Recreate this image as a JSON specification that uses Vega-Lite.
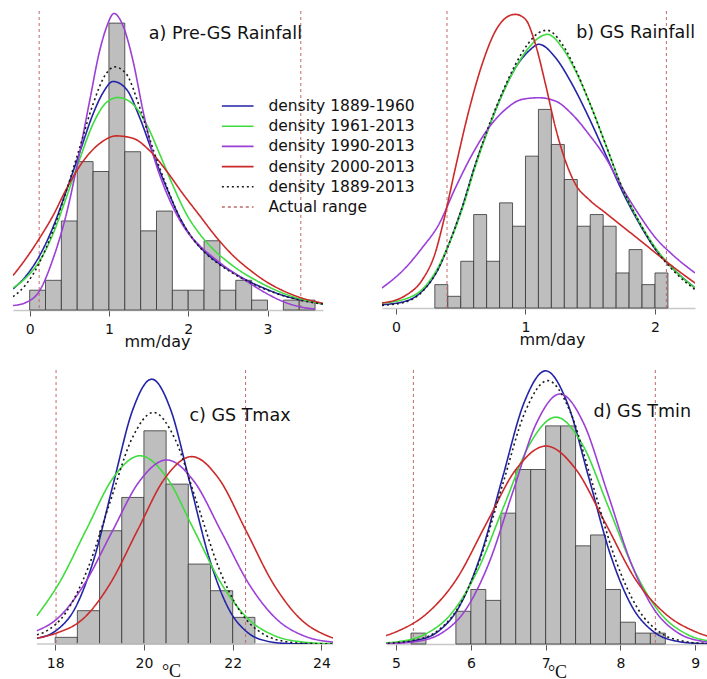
{
"$schema": "https://vega.github.io/schema/vega-lite/v6.json",
"padding": {"left": 13, "top": 10, "right": 0, "bottom": 0},
"background": "white",
"columns": 1,
"align": "none",
"spacing": 20,
"config": {
  "view": {"stroke": null},
  "axis": {"grid": false, "labelFont": "DejaVu Sans", "labelFontSize": 14, "labelColor": "#111", "labelPadding": 6, "tickSize": 6, "tickColor": "#555", "tickWidth": 1, "domainColor": "#c8c8c8", "domainWidth": 1.5, "titleFontWeight": "normal", "titleColor": "#111", "labelFlush": false, "labelOverlap": false, "titleBaseline": "alphabetic", "format": "~g"},
  "legend": {"labelFont": "DejaVu Sans", "labelFontSize": 15.5, "labelColor": "#111", "padding": 0}
},
"datasets": {
  "hist": [
    {"p":"a","x0":0.0,"x1":0.2,"d":0.08},{"p":"a","x0":0.2,"x1":0.4,"d":0.12},{"p":"a","x0":0.4,"x1":0.6,"d":0.36},{"p":"a","x0":0.6,"x1":0.8,"d":0.6},{"p":"a","x0":0.8,"x1":1.0,"d":0.56},{"p":"a","x0":1.0,"x1":1.2,"d":1.16},{"p":"a","x0":1.2,"x1":1.4,"d":0.64},{"p":"a","x0":1.4,"x1":1.6,"d":0.32},{"p":"a","x0":1.6,"x1":1.8,"d":0.4},{"p":"a","x0":1.8,"x1":2.0,"d":0.08},{"p":"a","x0":2.0,"x1":2.2,"d":0.08},{"p":"a","x0":2.2,"x1":2.4,"d":0.28},{"p":"a","x0":2.4,"x1":2.6,"d":0.08},{"p":"a","x0":2.6,"x1":2.8,"d":0.12},{"p":"a","x0":2.8,"x1":3.0,"d":0.04},{"p":"a","x0":3.2,"x1":3.4,"d":0.04},{"p":"a","x0":3.4,"x1":3.6,"d":0.04},
    {"p":"b","x0":0.3,"x1":0.4,"d":0.16},{"p":"b","x0":0.4,"x1":0.5,"d":0.08},{"p":"b","x0":0.5,"x1":0.6,"d":0.32},{"p":"b","x0":0.6,"x1":0.7,"d":0.64},{"p":"b","x0":0.7,"x1":0.8,"d":0.32},{"p":"b","x0":0.8,"x1":0.9,"d":0.72},{"p":"b","x0":0.9,"x1":1.0,"d":0.56},{"p":"b","x0":1.0,"x1":1.1,"d":1.04},{"p":"b","x0":1.1,"x1":1.2,"d":1.36},{"p":"b","x0":1.2,"x1":1.3,"d":1.12},{"p":"b","x0":1.3,"x1":1.4,"d":0.88},{"p":"b","x0":1.4,"x1":1.5,"d":0.56},{"p":"b","x0":1.5,"x1":1.6,"d":0.64},{"p":"b","x0":1.6,"x1":1.7,"d":0.56},{"p":"b","x0":1.7,"x1":1.8,"d":0.24},{"p":"b","x0":1.8,"x1":1.9,"d":0.4},{"p":"b","x0":1.9,"x1":2.0,"d":0.16},{"p":"b","x0":2.0,"x1":2.1,"d":0.24},
    {"p":"c","x0":18.0,"x1":18.5,"d":0.016},{"p":"c","x0":18.5,"x1":19.0,"d":0.08},{"p":"c","x0":19.0,"x1":19.5,"d":0.272},{"p":"c","x0":19.5,"x1":20.0,"d":0.352},{"p":"c","x0":20.0,"x1":20.5,"d":0.512},{"p":"c","x0":20.5,"x1":21.0,"d":0.384},{"p":"c","x0":21.0,"x1":21.5,"d":0.192},{"p":"c","x0":21.5,"x1":22.0,"d":0.128},{"p":"c","x0":22.0,"x1":22.5,"d":0.064},
    {"p":"d","x0":5.2,"x1":5.4,"d":0.04},{"p":"d","x0":5.8,"x1":6.0,"d":0.12},{"p":"d","x0":6.0,"x1":6.2,"d":0.2},{"p":"d","x0":6.2,"x1":6.4,"d":0.16},{"p":"d","x0":6.4,"x1":6.6,"d":0.48},{"p":"d","x0":6.6,"x1":6.8,"d":0.64},{"p":"d","x0":6.8,"x1":7.0,"d":0.64},{"p":"d","x0":7.0,"x1":7.2,"d":0.8},{"p":"d","x0":7.2,"x1":7.4,"d":0.8},{"p":"d","x0":7.4,"x1":7.6,"d":0.36},{"p":"d","x0":7.6,"x1":7.8,"d":0.4},{"p":"d","x0":7.8,"x1":8.0,"d":0.2},{"p":"d","x0":8.0,"x1":8.2,"d":0.08},{"p":"d","x0":8.2,"x1":8.4,"d":0.04},{"p":"d","x0":8.4,"x1":8.6,"d":0.04}
  ],
  "range": [
    {"p":"a","s":"Actual range","x":0.12},{"p":"a","s":"Actual range","x":3.42},
    {"p":"b","s":"Actual range","x":0.394},{"p":"b","s":"Actual range","x":2.088},
    {"p":"c","s":"Actual range","x":18.02},{"p":"c","s":"Actual range","x":22.29},
    {"p":"d","s":"Actual range","x":5.232},{"p":"d","s":"Actual range","x":8.466}
  ],
  "dens": [
    {"p":"a","s":"density 1889-1960","x":-0.21,"y":0.085},{"p":"a","s":"density 1889-1960","x":-0.042,"y":0.139},{"p":"a","s":"density 1889-1960","x":0.126,"y":0.22},{"p":"a","s":"density 1889-1960","x":0.294,"y":0.334},{"p":"a","s":"density 1889-1960","x":0.463,"y":0.482},{"p":"a","s":"density 1889-1960","x":0.631,"y":0.637},{"p":"a","s":"density 1889-1960","x":0.799,"y":0.792},{"p":"a","s":"density 1889-1960","x":0.926,"y":0.879},{"p":"a","s":"density 1889-1960","x":1.052,"y":0.924},{"p":"a","s":"density 1889-1960","x":1.22,"y":0.893},{"p":"a","s":"density 1889-1960","x":1.388,"y":0.778},{"p":"a","s":"density 1889-1960","x":1.557,"y":0.63},{"p":"a","s":"density 1889-1960","x":1.725,"y":0.496},{"p":"a","s":"density 1889-1960","x":1.893,"y":0.374},{"p":"a","s":"density 1889-1960","x":2.061,"y":0.287},{"p":"a","s":"density 1889-1960","x":2.23,"y":0.229},{"p":"a","s":"density 1889-1960","x":2.398,"y":0.186},{"p":"a","s":"density 1889-1960","x":2.566,"y":0.152},{"p":"a","s":"density 1889-1960","x":2.777,"y":0.114},{"p":"a","s":"density 1889-1960","x":2.987,"y":0.084},{"p":"a","s":"density 1889-1960","x":3.197,"y":0.059},{"p":"a","s":"density 1889-1960","x":3.408,"y":0.042},{"p":"a","s":"density 1889-1960","x":3.702,"y":0.024},
    {"p":"a","s":"density 1961-2013","x":-0.21,"y":0.089},{"p":"a","s":"density 1961-2013","x":-0.042,"y":0.132},{"p":"a","s":"density 1961-2013","x":0.126,"y":0.199},{"p":"a","s":"density 1961-2013","x":0.294,"y":0.307},{"p":"a","s":"density 1961-2013","x":0.463,"y":0.455},{"p":"a","s":"density 1961-2013","x":0.631,"y":0.61},{"p":"a","s":"density 1961-2013","x":0.799,"y":0.752},{"p":"a","s":"density 1961-2013","x":0.968,"y":0.839},{"p":"a","s":"density 1961-2013","x":1.115,"y":0.859},{"p":"a","s":"density 1961-2013","x":1.304,"y":0.832},{"p":"a","s":"density 1961-2013","x":1.472,"y":0.752},{"p":"a","s":"density 1961-2013","x":1.641,"y":0.63},{"p":"a","s":"density 1961-2013","x":1.809,"y":0.502},{"p":"a","s":"density 1961-2013","x":1.977,"y":0.388},{"p":"a","s":"density 1961-2013","x":2.146,"y":0.307},{"p":"a","s":"density 1961-2013","x":2.314,"y":0.246},{"p":"a","s":"density 1961-2013","x":2.482,"y":0.199},{"p":"a","s":"density 1961-2013","x":2.65,"y":0.159},{"p":"a","s":"density 1961-2013","x":2.861,"y":0.119},{"p":"a","s":"density 1961-2013","x":3.071,"y":0.085},{"p":"a","s":"density 1961-2013","x":3.281,"y":0.058},{"p":"a","s":"density 1961-2013","x":3.492,"y":0.038},{"p":"a","s":"density 1961-2013","x":3.702,"y":0.024},
    {"p":"a","s":"density 1990-2013","x":-0.21,"y":0.018},{"p":"a","s":"density 1990-2013","x":-0.042,"y":0.031},{"p":"a","s":"density 1990-2013","x":0.126,"y":0.078},{"p":"a","s":"density 1990-2013","x":0.294,"y":0.206},{"p":"a","s":"density 1990-2013","x":0.463,"y":0.388},{"p":"a","s":"density 1990-2013","x":0.61,"y":0.603},{"p":"a","s":"density 1990-2013","x":0.757,"y":0.846},{"p":"a","s":"density 1990-2013","x":0.883,"y":1.048},{"p":"a","s":"density 1990-2013","x":0.968,"y":1.142},{"p":"a","s":"density 1990-2013","x":1.064,"y":1.199},{"p":"a","s":"density 1990-2013","x":1.178,"y":1.149},{"p":"a","s":"density 1990-2013","x":1.304,"y":1.007},{"p":"a","s":"density 1990-2013","x":1.43,"y":0.805},{"p":"a","s":"density 1990-2013","x":1.557,"y":0.63},{"p":"a","s":"density 1990-2013","x":1.683,"y":0.509},{"p":"a","s":"density 1990-2013","x":1.809,"y":0.415},{"p":"a","s":"density 1990-2013","x":1.977,"y":0.321},{"p":"a","s":"density 1990-2013","x":2.146,"y":0.26},{"p":"a","s":"density 1990-2013","x":2.356,"y":0.202},{"p":"a","s":"density 1990-2013","x":2.566,"y":0.152},{"p":"a","s":"density 1990-2013","x":2.777,"y":0.108},{"p":"a","s":"density 1990-2013","x":2.987,"y":0.067},{"p":"a","s":"density 1990-2013","x":3.197,"y":0.034},{"p":"a","s":"density 1990-2013","x":3.408,"y":0.013},{"p":"a","s":"density 1990-2013","x":3.597,"y":0.004},
    {"p":"a","s":"density 2000-2013","x":-0.21,"y":0.139},{"p":"a","s":"density 2000-2013","x":-0.042,"y":0.21},{"p":"a","s":"density 2000-2013","x":0.126,"y":0.291},{"p":"a","s":"density 2000-2013","x":0.294,"y":0.381},{"p":"a","s":"density 2000-2013","x":0.463,"y":0.489},{"p":"a","s":"density 2000-2013","x":0.673,"y":0.601},{"p":"a","s":"density 2000-2013","x":0.883,"y":0.673},{"p":"a","s":"density 2000-2013","x":1.094,"y":0.704},{"p":"a","s":"density 2000-2013","x":1.304,"y":0.694},{"p":"a","s":"density 2000-2013","x":1.515,"y":0.644},{"p":"a","s":"density 2000-2013","x":1.725,"y":0.563},{"p":"a","s":"density 2000-2013","x":1.935,"y":0.469},{"p":"a","s":"density 2000-2013","x":2.146,"y":0.381},{"p":"a","s":"density 2000-2013","x":2.356,"y":0.294},{"p":"a","s":"density 2000-2013","x":2.566,"y":0.22},{"p":"a","s":"density 2000-2013","x":2.777,"y":0.162},{"p":"a","s":"density 2000-2013","x":2.987,"y":0.114},{"p":"a","s":"density 2000-2013","x":3.197,"y":0.078},{"p":"a","s":"density 2000-2013","x":3.408,"y":0.051},{"p":"a","s":"density 2000-2013","x":3.702,"y":0.027},
    {"p":"a","s":"density 1889-2013","x":-0.21,"y":0.054},{"p":"a","s":"density 1889-2013","x":-0.042,"y":0.105},{"p":"a","s":"density 1889-2013","x":0.126,"y":0.193},{"p":"a","s":"density 1889-2013","x":0.294,"y":0.321},{"p":"a","s":"density 1889-2013","x":0.463,"y":0.482},{"p":"a","s":"density 1889-2013","x":0.631,"y":0.657},{"p":"a","s":"density 1889-2013","x":0.799,"y":0.832},{"p":"a","s":"density 1889-2013","x":0.947,"y":0.947},{"p":"a","s":"density 1889-2013","x":1.073,"y":0.983},{"p":"a","s":"density 1889-2013","x":1.22,"y":0.954},{"p":"a","s":"density 1889-2013","x":1.388,"y":0.819},{"p":"a","s":"density 1889-2013","x":1.557,"y":0.65},{"p":"a","s":"density 1889-2013","x":1.725,"y":0.502},{"p":"a","s":"density 1889-2013","x":1.893,"y":0.374},{"p":"a","s":"density 1889-2013","x":2.061,"y":0.287},{"p":"a","s":"density 1889-2013","x":2.23,"y":0.226},{"p":"a","s":"density 1889-2013","x":2.398,"y":0.183},{"p":"a","s":"density 1889-2013","x":2.566,"y":0.148},{"p":"a","s":"density 1889-2013","x":2.777,"y":0.112},{"p":"a","s":"density 1889-2013","x":2.987,"y":0.082},{"p":"a","s":"density 1889-2013","x":3.197,"y":0.058},{"p":"a","s":"density 1889-2013","x":3.408,"y":0.04},{"p":"a","s":"density 1889-2013","x":3.702,"y":0.024},

    {"p":"b","s":"density 1889-1960","x":-0.108,"y":0.023},{"p":"b","s":"density 1889-1960","x":0.072,"y":0.046},{"p":"b","s":"density 1889-1960","x":0.201,"y":0.114},{"p":"b","s":"density 1889-1960","x":0.33,"y":0.274},{"p":"b","s":"density 1889-1960","x":0.407,"y":0.434},{"p":"b","s":"density 1889-1960","x":0.51,"y":0.686},{"p":"b","s":"density 1889-1960","x":0.613,"y":0.983},{"p":"b","s":"density 1889-1960","x":0.716,"y":1.234},{"p":"b","s":"density 1889-1960","x":0.82,"y":1.463},{"p":"b","s":"density 1889-1960","x":0.923,"y":1.646},{"p":"b","s":"density 1889-1960","x":1.026,"y":1.76},{"p":"b","s":"density 1889-1960","x":1.103,"y":1.806},{"p":"b","s":"density 1889-1960","x":1.232,"y":1.714},{"p":"b","s":"density 1889-1960","x":1.361,"y":1.531},{"p":"b","s":"density 1889-1960","x":1.49,"y":1.303},{"p":"b","s":"density 1889-1960","x":1.619,"y":1.051},{"p":"b","s":"density 1889-1960","x":1.747,"y":0.8},{"p":"b","s":"density 1889-1960","x":1.876,"y":0.583},{"p":"b","s":"density 1889-1960","x":2.005,"y":0.4},{"p":"b","s":"density 1889-1960","x":2.134,"y":0.274},{"p":"b","s":"density 1889-1960","x":2.309,"y":0.137},
    {"p":"b","s":"density 1961-2013","x":-0.108,"y":0.034},{"p":"b","s":"density 1961-2013","x":0.072,"y":0.062},{"p":"b","s":"density 1961-2013","x":0.201,"y":0.126},{"p":"b","s":"density 1961-2013","x":0.33,"y":0.286},{"p":"b","s":"density 1961-2013","x":0.407,"y":0.434},{"p":"b","s":"density 1961-2013","x":0.51,"y":0.674},{"p":"b","s":"density 1961-2013","x":0.613,"y":0.971},{"p":"b","s":"density 1961-2013","x":0.716,"y":1.234},{"p":"b","s":"density 1961-2013","x":0.82,"y":1.463},{"p":"b","s":"density 1961-2013","x":0.923,"y":1.646},{"p":"b","s":"density 1961-2013","x":1.026,"y":1.783},{"p":"b","s":"density 1961-2013","x":1.103,"y":1.851},{"p":"b","s":"density 1961-2013","x":1.168,"y":1.874},{"p":"b","s":"density 1961-2013","x":1.284,"y":1.783},{"p":"b","s":"density 1961-2013","x":1.387,"y":1.623},{"p":"b","s":"density 1961-2013","x":1.49,"y":1.417},{"p":"b","s":"density 1961-2013","x":1.619,"y":1.12},{"p":"b","s":"density 1961-2013","x":1.747,"y":0.823},{"p":"b","s":"density 1961-2013","x":1.876,"y":0.594},{"p":"b","s":"density 1961-2013","x":2.005,"y":0.411},{"p":"b","s":"density 1961-2013","x":2.134,"y":0.274},{"p":"b","s":"density 1961-2013","x":2.309,"y":0.137},
    {"p":"b","s":"density 1990-2013","x":-0.108,"y":0.137},{"p":"b","s":"density 1990-2013","x":0.072,"y":0.274},{"p":"b","s":"density 1990-2013","x":0.201,"y":0.411},{"p":"b","s":"density 1990-2013","x":0.33,"y":0.571},{"p":"b","s":"density 1990-2013","x":0.459,"y":0.823},{"p":"b","s":"density 1990-2013","x":0.588,"y":1.051},{"p":"b","s":"density 1990-2013","x":0.716,"y":1.234},{"p":"b","s":"density 1990-2013","x":0.845,"y":1.36},{"p":"b","s":"density 1990-2013","x":0.974,"y":1.429},{"p":"b","s":"density 1990-2013","x":1.103,"y":1.44},{"p":"b","s":"density 1990-2013","x":1.232,"y":1.417},{"p":"b","s":"density 1990-2013","x":1.361,"y":1.326},{"p":"b","s":"density 1990-2013","x":1.49,"y":1.189},{"p":"b","s":"density 1990-2013","x":1.619,"y":1.029},{"p":"b","s":"density 1990-2013","x":1.747,"y":0.823},{"p":"b","s":"density 1990-2013","x":1.876,"y":0.64},{"p":"b","s":"density 1990-2013","x":2.005,"y":0.48},{"p":"b","s":"density 1990-2013","x":2.134,"y":0.366},{"p":"b","s":"density 1990-2013","x":2.309,"y":0.24},
    {"p":"b","s":"density 2000-2013","x":-0.108,"y":0.034},{"p":"b","s":"density 2000-2013","x":0.072,"y":0.085},{"p":"b","s":"density 2000-2013","x":0.201,"y":0.19},{"p":"b","s":"density 2000-2013","x":0.304,"y":0.38},{"p":"b","s":"density 2000-2013","x":0.369,"y":0.6},{"p":"b","s":"density 2000-2013","x":0.459,"y":0.96},{"p":"b","s":"density 2000-2013","x":0.562,"y":1.349},{"p":"b","s":"density 2000-2013","x":0.665,"y":1.669},{"p":"b","s":"density 2000-2013","x":0.768,"y":1.897},{"p":"b","s":"density 2000-2013","x":0.871,"y":2.0},{"p":"b","s":"density 2000-2013","x":0.923,"y":2.011},{"p":"b","s":"density 2000-2013","x":1.0,"y":1.977},{"p":"b","s":"density 2000-2013","x":1.077,"y":1.806},{"p":"b","s":"density 2000-2013","x":1.155,"y":1.531},{"p":"b","s":"density 2000-2013","x":1.232,"y":1.234},{"p":"b","s":"density 2000-2013","x":1.309,"y":1.006},{"p":"b","s":"density 2000-2013","x":1.387,"y":0.846},{"p":"b","s":"density 2000-2013","x":1.49,"y":0.743},{"p":"b","s":"density 2000-2013","x":1.619,"y":0.651},{"p":"b","s":"density 2000-2013","x":1.747,"y":0.56},{"p":"b","s":"density 2000-2013","x":1.876,"y":0.469},{"p":"b","s":"density 2000-2013","x":2.005,"y":0.377},{"p":"b","s":"density 2000-2013","x":2.134,"y":0.286},{"p":"b","s":"density 2000-2013","x":2.309,"y":0.171},
    {"p":"b","s":"density 1889-2013","x":-0.108,"y":0.018},{"p":"b","s":"density 1889-2013","x":0.072,"y":0.041},{"p":"b","s":"density 1889-2013","x":0.201,"y":0.11},{"p":"b","s":"density 1889-2013","x":0.33,"y":0.274},{"p":"b","s":"density 1889-2013","x":0.407,"y":0.434},{"p":"b","s":"density 1889-2013","x":0.51,"y":0.686},{"p":"b","s":"density 1889-2013","x":0.613,"y":0.983},{"p":"b","s":"density 1889-2013","x":0.716,"y":1.246},{"p":"b","s":"density 1889-2013","x":0.82,"y":1.474},{"p":"b","s":"density 1889-2013","x":0.923,"y":1.669},{"p":"b","s":"density 1889-2013","x":1.026,"y":1.817},{"p":"b","s":"density 1889-2013","x":1.103,"y":1.886},{"p":"b","s":"density 1889-2013","x":1.168,"y":1.902},{"p":"b","s":"density 1889-2013","x":1.284,"y":1.806},{"p":"b","s":"density 1889-2013","x":1.387,"y":1.634},{"p":"b","s":"density 1889-2013","x":1.49,"y":1.417},{"p":"b","s":"density 1889-2013","x":1.619,"y":1.12},{"p":"b","s":"density 1889-2013","x":1.747,"y":0.823},{"p":"b","s":"density 1889-2013","x":1.876,"y":0.594},{"p":"b","s":"density 1889-2013","x":2.005,"y":0.4},{"p":"b","s":"density 1889-2013","x":2.134,"y":0.263},{"p":"b","s":"density 1889-2013","x":2.309,"y":0.126},

    {"p":"c","s":"density 1889-1960","x":17.59,"y":0.014},{"p":"c","s":"density 1889-1960","x":18.018,"y":0.032},{"p":"c","s":"density 1889-1960","x":18.449,"y":0.0861},{"p":"c","s":"density 1889-1960","x":18.881,"y":0.2065},{"p":"c","s":"density 1889-1960","x":19.312,"y":0.3857},{"p":"c","s":"density 1889-1960","x":19.744,"y":0.5613},{"p":"c","s":"density 1889-1960","x":20.175,"y":0.636},{"p":"c","s":"density 1889-1960","x":20.607,"y":0.5613},{"p":"c","s":"density 1889-1960","x":21.038,"y":0.3857},{"p":"c","s":"density 1889-1960","x":21.47,"y":0.2065},{"p":"c","s":"density 1889-1960","x":21.901,"y":0.0861},{"p":"c","s":"density 1889-1960","x":22.333,"y":0.0279},{"p":"c","s":"density 1889-1960","x":22.764,"y":0.0071},{"p":"c","s":"density 1889-1960","x":23.196,"y":0.0014},{"p":"c","s":"density 1889-1960","x":23.627,"y":0.0002},{"p":"c","s":"density 1889-1960","x":24.4,"y":0.0},
    {"p":"c","s":"density 1961-2013","x":17.59,"y":0.068},{"p":"c","s":"density 1961-2013","x":18.092,"y":0.1468},{"p":"c","s":"density 1961-2013","x":18.699,"y":0.2741},{"p":"c","s":"density 1961-2013","x":19.306,"y":0.3989},{"p":"c","s":"density 1961-2013","x":19.913,"y":0.452},{"p":"c","s":"density 1961-2013","x":20.52,"y":0.3989},{"p":"c","s":"density 1961-2013","x":21.127,"y":0.2741},{"p":"c","s":"density 1961-2013","x":21.734,"y":0.1468},{"p":"c","s":"density 1961-2013","x":22.341,"y":0.0612},{"p":"c","s":"density 1961-2013","x":22.948,"y":0.0198},{"p":"c","s":"density 1961-2013","x":23.555,"y":0.005},{"p":"c","s":"density 1961-2013","x":24.162,"y":0.001},{"p":"c","s":"density 1961-2013","x":24.769,"y":0.0002},
    {"p":"c","s":"density 1990-2013","x":17.59,"y":0.032},{"p":"c","s":"density 1990-2013","x":18.037,"y":0.0598},{"p":"c","s":"density 1990-2013","x":18.656,"y":0.1435},{"p":"c","s":"density 1990-2013","x":19.275,"y":0.2681},{"p":"c","s":"density 1990-2013","x":19.894,"y":0.3901},{"p":"c","s":"density 1990-2013","x":20.513,"y":0.442},{"p":"c","s":"density 1990-2013","x":21.132,"y":0.3901},{"p":"c","s":"density 1990-2013","x":21.751,"y":0.2681},{"p":"c","s":"density 1990-2013","x":22.37,"y":0.1435},{"p":"c","s":"density 1990-2013","x":22.989,"y":0.0598},{"p":"c","s":"density 1990-2013","x":23.608,"y":0.0194},{"p":"c","s":"density 1990-2013","x":24.227,"y":0.0049},{"p":"c","s":"density 1990-2013","x":24.846,"y":0.001},
    {"p":"c","s":"density 2000-2013","x":17.59,"y":0.014},{"p":"c","s":"density 2000-2013","x":18.024,"y":0.026},{"p":"c","s":"density 2000-2013","x":18.634,"y":0.0609},{"p":"c","s":"density 2000-2013","x":19.245,"y":0.1461},{"p":"c","s":"density 2000-2013","x":19.855,"y":0.2729},{"p":"c","s":"density 2000-2013","x":20.466,"y":0.3971},{"p":"c","s":"density 2000-2013","x":21.076,"y":0.45},{"p":"c","s":"density 2000-2013","x":21.687,"y":0.3971},{"p":"c","s":"density 2000-2013","x":22.297,"y":0.2729},{"p":"c","s":"density 2000-2013","x":22.908,"y":0.1461},{"p":"c","s":"density 2000-2013","x":23.518,"y":0.0609},{"p":"c","s":"density 2000-2013","x":24.129,"y":0.0198},{"p":"c","s":"density 2000-2013","x":24.739,"y":0.005},
    {"p":"c","s":"density 1889-2013","x":17.59,"y":0.022},{"p":"c","s":"density 1889-2013","x":17.746,"y":0.028},{"p":"c","s":"density 1889-2013","x":18.239,"y":0.0752},{"p":"c","s":"density 1889-2013","x":18.733,"y":0.1805},{"p":"c","s":"density 1889-2013","x":19.226,"y":0.3372},{"p":"c","s":"density 1889-2013","x":19.72,"y":0.4907},{"p":"c","s":"density 1889-2013","x":20.213,"y":0.556},{"p":"c","s":"density 1889-2013","x":20.707,"y":0.4907},{"p":"c","s":"density 1889-2013","x":21.2,"y":0.3372},{"p":"c","s":"density 1889-2013","x":21.694,"y":0.1805},{"p":"c","s":"density 1889-2013","x":22.187,"y":0.0752},{"p":"c","s":"density 1889-2013","x":22.681,"y":0.0244},{"p":"c","s":"density 1889-2013","x":23.174,"y":0.0062},{"p":"c","s":"density 1889-2013","x":23.668,"y":0.0012},{"p":"c","s":"density 1889-2013","x":24.161,"y":0.0002},{"p":"c","s":"density 1889-2013","x":24.5,"y":0.0},

    {"p":"d","s":"density 1889-1960","x":4.684,"y":0.001},{"p":"d","s":"density 1889-1960","x":4.9735,"y":0.004},{"p":"d","s":"density 1889-1960","x":5.263,"y":0.0131},{"p":"d","s":"density 1889-1960","x":5.5525,"y":0.044},{"p":"d","s":"density 1889-1960","x":5.842,"y":0.1356},{"p":"d","s":"density 1889-1960","x":6.1315,"y":0.3253},{"p":"d","s":"density 1889-1960","x":6.421,"y":0.6077},{"p":"d","s":"density 1889-1960","x":6.7105,"y":0.8843},{"p":"d","s":"density 1889-1960","x":7.0,"y":1.002},{"p":"d","s":"density 1889-1960","x":7.2895,"y":0.8843},{"p":"d","s":"density 1889-1960","x":7.579,"y":0.6077},{"p":"d","s":"density 1889-1960","x":7.8685,"y":0.3253},{"p":"d","s":"density 1889-1960","x":8.158,"y":0.1356},{"p":"d","s":"density 1889-1960","x":8.4475,"y":0.044},{"p":"d","s":"density 1889-1960","x":8.737,"y":0.0111},{"p":"d","s":"density 1889-1960","x":9.0265,"y":0.0022},{"p":"d","s":"density 1889-1960","x":9.316,"y":0.0003},
    {"p":"d","s":"density 1961-2013","x":4.695,"y":0.0018},{"p":"d","s":"density 1961-2013","x":5.044,"y":0.0092},{"p":"d","s":"density 1961-2013","x":5.393,"y":0.0365},{"p":"d","s":"density 1961-2013","x":5.742,"y":0.1126},{"p":"d","s":"density 1961-2013","x":6.091,"y":0.2701},{"p":"d","s":"density 1961-2013","x":6.44,"y":0.5046},{"p":"d","s":"density 1961-2013","x":6.789,"y":0.7342},{"p":"d","s":"density 1961-2013","x":7.138,"y":0.832},{"p":"d","s":"density 1961-2013","x":7.487,"y":0.7342},{"p":"d","s":"density 1961-2013","x":7.836,"y":0.5046},{"p":"d","s":"density 1961-2013","x":8.185,"y":0.2701},{"p":"d","s":"density 1961-2013","x":8.534,"y":0.1126},{"p":"d","s":"density 1961-2013","x":8.883,"y":0.0365},{"p":"d","s":"density 1961-2013","x":9.232,"y":0.0092},{"p":"d","s":"density 1961-2013","x":9.581,"y":0.0018},
    {"p":"d","s":"density 1990-2013","x":4.662,"y":0.0003},{"p":"d","s":"density 1990-2013","x":4.9783,"y":0.002},{"p":"d","s":"density 1990-2013","x":5.2945,"y":0.0102},{"p":"d","s":"density 1990-2013","x":5.6108,"y":0.0403},{"p":"d","s":"density 1990-2013","x":5.927,"y":0.1241},{"p":"d","s":"density 1990-2013","x":6.2433,"y":0.2977},{"p":"d","s":"density 1990-2013","x":6.5595,"y":0.5562},{"p":"d","s":"density 1990-2013","x":6.8758,"y":0.8093},{"p":"d","s":"density 1990-2013","x":7.192,"y":0.917},{"p":"d","s":"density 1990-2013","x":7.5083,"y":0.8093},{"p":"d","s":"density 1990-2013","x":7.8245,"y":0.5562},{"p":"d","s":"density 1990-2013","x":8.1408,"y":0.2977},{"p":"d","s":"density 1990-2013","x":8.457,"y":0.1241},{"p":"d","s":"density 1990-2013","x":8.7733,"y":0.0403},{"p":"d","s":"density 1990-2013","x":9.0895,"y":0.0102},{"p":"d","s":"density 1990-2013","x":9.4058,"y":0.002},
    {"p":"d","s":"density 2000-2013","x":4.204,"y":0.003},{"p":"d","s":"density 2000-2013","x":4.604,"y":0.014},{"p":"d","s":"density 2000-2013","x":5.004,"y":0.045},{"p":"d","s":"density 2000-2013","x":5.404,"y":0.11},{"p":"d","s":"density 2000-2013","x":5.804,"y":0.2357},{"p":"d","s":"density 2000-2013","x":6.204,"y":0.4403},{"p":"d","s":"density 2000-2013","x":6.604,"y":0.6407},{"p":"d","s":"density 2000-2013","x":7.004,"y":0.726},{"p":"d","s":"density 2000-2013","x":7.404,"y":0.6407},{"p":"d","s":"density 2000-2013","x":7.804,"y":0.4403},{"p":"d","s":"density 2000-2013","x":8.204,"y":0.2357},{"p":"d","s":"density 2000-2013","x":8.604,"y":0.11},{"p":"d","s":"density 2000-2013","x":9.004,"y":0.045},{"p":"d","s":"density 2000-2013","x":9.404,"y":0.014},{"p":"d","s":"density 2000-2013","x":9.804,"y":0.003},
    {"p":"d","s":"density 1889-2013","x":4.623,"y":0.001},{"p":"d","s":"density 1889-2013","x":4.9235,"y":0.0035},{"p":"d","s":"density 1889-2013","x":5.224,"y":0.0127},{"p":"d","s":"density 1889-2013","x":5.5245,"y":0.0424},{"p":"d","s":"density 1889-2013","x":5.825,"y":0.1307},{"p":"d","s":"density 1889-2013","x":6.1255,"y":0.3137},{"p":"d","s":"density 1889-2013","x":6.426,"y":0.5859},{"p":"d","s":"density 1889-2013","x":6.7265,"y":0.8525},{"p":"d","s":"density 1889-2013","x":7.027,"y":0.966},{"p":"d","s":"density 1889-2013","x":7.3275,"y":0.8525},{"p":"d","s":"density 1889-2013","x":7.628,"y":0.5859},{"p":"d","s":"density 1889-2013","x":7.9285,"y":0.3137},{"p":"d","s":"density 1889-2013","x":8.229,"y":0.1307},{"p":"d","s":"density 1889-2013","x":8.5295,"y":0.0424},{"p":"d","s":"density 1889-2013","x":8.83,"y":0.0107},{"p":"d","s":"density 1889-2013","x":9.1305,"y":0.0021},{"p":"d","s":"density 1889-2013","x":9.431,"y":0.0003}
  ]
},
"concat": [
 {"spacing": 59, "hconcat": [
  {"width": 310, "height": 299,
   "title": {"text": "a) Pre-GS Rainfall", "anchor": "end", "frame": "group", "orient": "top", "offset": 0, "dy": 46, "dx": -21, "baseline": "alphabetic", "font": "DejaVu Sans", "fontSize": 17.5, "fontWeight": "normal", "color": "#111"},
   "layer": [
    {"data": {"name": "hist"}, "transform": [{"filter": "datum.p === 'a'"}],
     "mark": {"type": "rect", "fill": "#bebebe", "stroke": "#333", "strokeWidth": 0.8},
     "encoding": {
      "x": {"field": "x0", "type": "quantitative", "scale": {"domain": [-0.21, 3.7], "nice": false, "zero": false},
            "axis": {"values": [0, 1, 2, 3], "title": "mm/day", "titleX": 144, "titleY": 36, "titleFont": "DejaVu Sans", "titleFontSize": 16}},
      "x2": {"field": "x1"},
      "y": {"field": "d", "type": "quantitative", "scale": {"domain": [0, 1.209], "nice": false}, "axis": null},
      "y2": {"datum": 0}}},
    {"data": {"name": "range"}, "transform": [{"filter": "datum.p === 'a'"}],
     "mark": {"type": "rule", "strokeWidth": 1},
     "encoding": {
      "x": {"field": "x", "type": "quantitative", "scale": {"domain": [-0.21, 3.7], "nice": false, "zero": false}},
      "color": {"field": "s", "type": "nominal", "scale": {"domain": ["density 1889-1960", "density 1961-2013", "density 1990-2013", "density 2000-2013", "density 1889-2013", "Actual range"], "range": ["#2323a8", "#3fdc3f", "#9b3fd6", "#cc2a2a", "#1a1a1a", "#c06a6a"]}, "legend": {"title": null, "orient": "none", "legendX": 214.7, "legendY": 85, "symbolType": "M-1.76,0H1.76", "symbolSize": 324, "symbolStrokeWidth": 1.6, "labelOffset": 20.7, "rowPadding": 1.2}},
      "strokeDash": {"field": "s", "type": "nominal", "scale": {"domain": ["density 1889-1960", "density 1961-2013", "density 1990-2013", "density 2000-2013", "density 1889-2013", "Actual range"], "range": [[1, 0], [1, 0], [1, 0], [1, 0], [2, 3], [3, 3]]}, "legend": {"title": null, "orient": "none", "legendX": 214.7, "legendY": 85, "symbolType": "M-1.76,0H1.76", "symbolSize": 324, "symbolStrokeWidth": 1.6, "labelOffset": 20.7, "rowPadding": 1.2}}}},
    {"data": {"name": "dens"}, "transform": [{"filter": "datum.p === 'a'"}],
     "mark": {"type": "line", "interpolate": "monotone", "clip": true, "strokeWidth": 1.6},
     "encoding": {
      "x": {"field": "x", "type": "quantitative", "scale": {"domain": [-0.21, 3.7], "nice": false, "zero": false}},
      "y": {"field": "y", "type": "quantitative", "scale": {"domain": [0, 1.209], "nice": false}},
      "color": {"field": "s", "type": "nominal", "scale": {"domain": ["density 1889-1960", "density 1961-2013", "density 1990-2013", "density 2000-2013", "density 1889-2013", "Actual range"], "range": ["#2323a8", "#3fdc3f", "#9b3fd6", "#cc2a2a", "#1a1a1a", "#c06a6a"]}, "legend": {"title": null, "orient": "none", "legendX": 214.7, "legendY": 85, "symbolType": "M-1.76,0H1.76", "symbolSize": 324, "symbolStrokeWidth": 1.6, "labelOffset": 20.7, "rowPadding": 1.2}},
      "strokeDash": {"field": "s", "type": "nominal", "scale": {"domain": ["density 1889-1960", "density 1961-2013", "density 1990-2013", "density 2000-2013", "density 1889-2013", "Actual range"], "range": [[1, 0], [1, 0], [1, 0], [1, 0], [2, 3], [3, 3]]}, "legend": {"title": null, "orient": "none", "legendX": 214.7, "legendY": 85, "symbolType": "M-1.76,0H1.76", "symbolSize": 324, "symbolStrokeWidth": 1.6, "labelOffset": 20.7, "rowPadding": 1.2}}}}
   ]},
  {"width": 313, "height": 297,
   "title": {"text": "b) GS Rainfall", "anchor": "end", "frame": "group", "orient": "top", "offset": 0, "dy": 45, "dx": 0, "baseline": "alphabetic", "font": "DejaVu Sans", "fontSize": 17.5, "fontWeight": "normal", "color": "#111"},
   "layer": [
    {"data": {"name": "hist"}, "transform": [{"filter": "datum.p === 'b'"}],
     "mark": {"type": "rect", "fill": "#bebebe", "stroke": "#333", "strokeWidth": 0.8},
     "encoding": {
      "x": {"field": "x0", "type": "quantitative", "scale": {"domain": [-0.108, 2.309], "nice": false, "zero": false},
            "axis": {"values": [0, 1, 2], "title": "mm/day", "titleX": 170, "titleY": 36, "titleFont": "DejaVu Sans", "titleFontSize": 16}},
      "x2": {"field": "x1"},
      "y": {"field": "d", "type": "quantitative", "scale": {"domain": [0, 2.034], "nice": false}, "axis": null},
      "y2": {"datum": 0}}},
    {"data": {"name": "range"}, "transform": [{"filter": "datum.p === 'b'"}],
     "mark": {"type": "rule", "strokeWidth": 1},
     "encoding": {
      "x": {"field": "x", "type": "quantitative", "scale": {"domain": [-0.108, 2.309], "nice": false, "zero": false}},
      "color": {"field": "s", "type": "nominal", "scale": {"domain": ["density 1889-1960", "density 1961-2013", "density 1990-2013", "density 2000-2013", "density 1889-2013", "Actual range"], "range": ["#2323a8", "#3fdc3f", "#9b3fd6", "#cc2a2a", "#1a1a1a", "#c06a6a"]}, "legend": {"title": null, "orient": "none", "legendX": 214.7, "legendY": 85, "symbolType": "M-1.76,0H1.76", "symbolSize": 324, "symbolStrokeWidth": 1.6, "labelOffset": 20.7, "rowPadding": 1.2}},
      "strokeDash": {"field": "s", "type": "nominal", "scale": {"domain": ["density 1889-1960", "density 1961-2013", "density 1990-2013", "density 2000-2013", "density 1889-2013", "Actual range"], "range": [[1, 0], [1, 0], [1, 0], [1, 0], [2, 3], [3, 3]]}, "legend": {"title": null, "orient": "none", "legendX": 214.7, "legendY": 85, "symbolType": "M-1.76,0H1.76", "symbolSize": 324, "symbolStrokeWidth": 1.6, "labelOffset": 20.7, "rowPadding": 1.2}}}},
    {"data": {"name": "dens"}, "transform": [{"filter": "datum.p === 'b'"}],
     "mark": {"type": "line", "interpolate": "monotone", "clip": true, "strokeWidth": 1.6},
     "encoding": {
      "x": {"field": "x", "type": "quantitative", "scale": {"domain": [-0.108, 2.309], "nice": false, "zero": false}},
      "y": {"field": "y", "type": "quantitative", "scale": {"domain": [0, 2.034], "nice": false}},
      "color": {"field": "s", "type": "nominal", "scale": {"domain": ["density 1889-1960", "density 1961-2013", "density 1990-2013", "density 2000-2013", "density 1889-2013", "Actual range"], "range": ["#2323a8", "#3fdc3f", "#9b3fd6", "#cc2a2a", "#1a1a1a", "#c06a6a"]}, "legend": {"title": null, "orient": "none", "legendX": 214.7, "legendY": 85, "symbolType": "M-1.76,0H1.76", "symbolSize": 324, "symbolStrokeWidth": 1.6, "labelOffset": 20.7, "rowPadding": 1.2}},
      "strokeDash": {"field": "s", "type": "nominal", "scale": {"domain": ["density 1889-1960", "density 1961-2013", "density 1990-2013", "density 2000-2013", "density 1889-2013", "Actual range"], "range": [[1, 0], [1, 0], [1, 0], [1, 0], [2, 3], [3, 3]]}, "legend": {"title": null, "orient": "none", "legendX": 214.7, "legendY": 85, "symbolType": "M-1.76,0H1.76", "symbolSize": 324, "symbolStrokeWidth": 1.6, "labelOffset": 20.7, "rowPadding": 1.2}}}}
   ]}
 ]},
 {"spacing": 52, "hconcat": [
  {"width": 320, "height": 274,
   "title": {"text": "c) GS Tmax", "anchor": "end", "frame": "group", "orient": "top", "offset": 0, "dy": 68.5, "dx": -42.5, "baseline": "alphabetic", "font": "DejaVu Sans", "fontSize": 17.5, "fontWeight": "normal", "color": "#111"},
   "layer": [
    {"data": {"name": "hist"}, "transform": [{"filter": "datum.p === 'c'"}],
     "mark": {"type": "rect", "fill": "#bebebe", "stroke": "#333", "strokeWidth": 0.8},
     "encoding": {
      "x": {"field": "x0", "type": "quantitative", "scale": {"domain": [17.05, 24.26], "nice": false, "zero": false},
            "axis": {"values": [18, 20, 22, 24], "title": "°C", "titleX": 158, "titleY": 32, "titleFont": "Liberation Serif", "titleFontSize": 18, "domain": false}},
      "x2": {"field": "x1"},
      "y": {"field": "d", "type": "quantitative", "scale": {"domain": [0, 0.658], "nice": false}, "axis": null},
      "y2": {"datum": 0}}},
    {"data": {"values": [{}]},
     "mark": {"type": "rule", "color": "#c8c8c8", "strokeWidth": 1.5},
     "encoding": {
      "x": {"datum": 17.59, "type": "quantitative", "scale": {"domain": [17.05, 24.26], "nice": false, "zero": false}},
      "x2": {"datum": 24.26},
      "y": {"datum": 0, "type": "quantitative", "scale": {"domain": [0, 0.658], "nice": false}}}},
    {"data": {"name": "range"}, "transform": [{"filter": "datum.p === 'c'"}],
     "mark": {"type": "rule", "strokeWidth": 1},
     "encoding": {
      "x": {"field": "x", "type": "quantitative", "scale": {"domain": [17.05, 24.26], "nice": false, "zero": false}},
      "color": {"field": "s", "type": "nominal", "scale": {"domain": ["density 1889-1960", "density 1961-2013", "density 1990-2013", "density 2000-2013", "density 1889-2013", "Actual range"], "range": ["#2323a8", "#3fdc3f", "#9b3fd6", "#cc2a2a", "#1a1a1a", "#c06a6a"]}, "legend": {"title": null, "orient": "none", "legendX": 214.7, "legendY": 85, "symbolType": "M-1.76,0H1.76", "symbolSize": 324, "symbolStrokeWidth": 1.6, "labelOffset": 20.7, "rowPadding": 1.2}},
      "strokeDash": {"field": "s", "type": "nominal", "scale": {"domain": ["density 1889-1960", "density 1961-2013", "density 1990-2013", "density 2000-2013", "density 1889-2013", "Actual range"], "range": [[1, 0], [1, 0], [1, 0], [1, 0], [2, 3], [3, 3]]}, "legend": {"title": null, "orient": "none", "legendX": 214.7, "legendY": 85, "symbolType": "M-1.76,0H1.76", "symbolSize": 324, "symbolStrokeWidth": 1.6, "labelOffset": 20.7, "rowPadding": 1.2}}}},
    {"data": {"name": "dens"}, "transform": [{"filter": "datum.p === 'c'"}],
     "mark": {"type": "line", "interpolate": "monotone", "clip": true, "strokeWidth": 1.6},
     "encoding": {
      "x": {"field": "x", "type": "quantitative", "scale": {"domain": [17.05, 24.26], "nice": false, "zero": false}},
      "y": {"field": "y", "type": "quantitative", "scale": {"domain": [0, 0.658], "nice": false}},
      "color": {"field": "s", "type": "nominal", "scale": {"domain": ["density 1889-1960", "density 1961-2013", "density 1990-2013", "density 2000-2013", "density 1889-2013", "Actual range"], "range": ["#2323a8", "#3fdc3f", "#9b3fd6", "#cc2a2a", "#1a1a1a", "#c06a6a"]}, "legend": {"title": null, "orient": "none", "legendX": 214.7, "legendY": 85, "symbolType": "M-1.76,0H1.76", "symbolSize": 324, "symbolStrokeWidth": 1.6, "labelOffset": 20.7, "rowPadding": 1.2}},
      "strokeDash": {"field": "s", "type": "nominal", "scale": {"domain": ["density 1889-1960", "density 1961-2013", "density 1990-2013", "density 2000-2013", "density 1889-2013", "Actual range"], "range": [[1, 0], [1, 0], [1, 0], [1, 0], [2, 3], [3, 3]]}, "legend": {"title": null, "orient": "none", "legendX": 214.7, "legendY": 85, "symbolType": "M-1.76,0H1.76", "symbolSize": 324, "symbolStrokeWidth": 1.6, "labelOffset": 20.7, "rowPadding": 1.2}}}}
   ]},
  {"width": 322, "height": 274,
   "title": {"text": "d) GS Tmin", "anchor": "end", "frame": "group", "orient": "top", "offset": 0, "dy": 64.5, "dx": -17, "baseline": "alphabetic", "font": "DejaVu Sans", "fontSize": 17.5, "fontWeight": "normal", "color": "#111"},
   "layer": [
    {"data": {"name": "hist"}, "transform": [{"filter": "datum.p === 'd'"}],
     "mark": {"type": "rect", "fill": "#bebebe", "stroke": "#333", "strokeWidth": 0.8},
     "encoding": {
      "x": {"field": "x0", "type": "quantitative", "scale": {"domain": [4.866, 9.17], "nice": false, "zero": false},
            "axis": {"values": [5, 6, 7, 8, 9], "title": "°C", "titleX": 171, "titleY": 33, "titleFont": "Liberation Serif", "titleFontSize": 18}},
      "x2": {"field": "x1"},
      "y": {"field": "d", "type": "quantitative", "scale": {"domain": [0, 1.005], "nice": false}, "axis": null},
      "y2": {"datum": 0}}},
    {"data": {"name": "range"}, "transform": [{"filter": "datum.p === 'd'"}],
     "mark": {"type": "rule", "strokeWidth": 1},
     "encoding": {
      "x": {"field": "x", "type": "quantitative", "scale": {"domain": [4.866, 9.17], "nice": false, "zero": false}},
      "color": {"field": "s", "type": "nominal", "scale": {"domain": ["density 1889-1960", "density 1961-2013", "density 1990-2013", "density 2000-2013", "density 1889-2013", "Actual range"], "range": ["#2323a8", "#3fdc3f", "#9b3fd6", "#cc2a2a", "#1a1a1a", "#c06a6a"]}, "legend": {"title": null, "orient": "none", "legendX": 214.7, "legendY": 85, "symbolType": "M-1.76,0H1.76", "symbolSize": 324, "symbolStrokeWidth": 1.6, "labelOffset": 20.7, "rowPadding": 1.2}},
      "strokeDash": {"field": "s", "type": "nominal", "scale": {"domain": ["density 1889-1960", "density 1961-2013", "density 1990-2013", "density 2000-2013", "density 1889-2013", "Actual range"], "range": [[1, 0], [1, 0], [1, 0], [1, 0], [2, 3], [3, 3]]}, "legend": {"title": null, "orient": "none", "legendX": 214.7, "legendY": 85, "symbolType": "M-1.76,0H1.76", "symbolSize": 324, "symbolStrokeWidth": 1.6, "labelOffset": 20.7, "rowPadding": 1.2}}}},
    {"data": {"name": "dens"}, "transform": [{"filter": "datum.p === 'd'"}],
     "mark": {"type": "line", "interpolate": "monotone", "clip": true, "strokeWidth": 1.6},
     "encoding": {
      "x": {"field": "x", "type": "quantitative", "scale": {"domain": [4.866, 9.17], "nice": false, "zero": false}},
      "y": {"field": "y", "type": "quantitative", "scale": {"domain": [0, 1.005], "nice": false}},
      "color": {"field": "s", "type": "nominal", "scale": {"domain": ["density 1889-1960", "density 1961-2013", "density 1990-2013", "density 2000-2013", "density 1889-2013", "Actual range"], "range": ["#2323a8", "#3fdc3f", "#9b3fd6", "#cc2a2a", "#1a1a1a", "#c06a6a"]}, "legend": {"title": null, "orient": "none", "legendX": 214.7, "legendY": 85, "symbolType": "M-1.76,0H1.76", "symbolSize": 324, "symbolStrokeWidth": 1.6, "labelOffset": 20.7, "rowPadding": 1.2}},
      "strokeDash": {"field": "s", "type": "nominal", "scale": {"domain": ["density 1889-1960", "density 1961-2013", "density 1990-2013", "density 2000-2013", "density 1889-2013", "Actual range"], "range": [[1, 0], [1, 0], [1, 0], [1, 0], [2, 3], [3, 3]]}, "legend": {"title": null, "orient": "none", "legendX": 214.7, "legendY": 85, "symbolType": "M-1.76,0H1.76", "symbolSize": 324, "symbolStrokeWidth": 1.6, "labelOffset": 20.7, "rowPadding": 1.2}}}}
   ]}
 ]}
]
}
